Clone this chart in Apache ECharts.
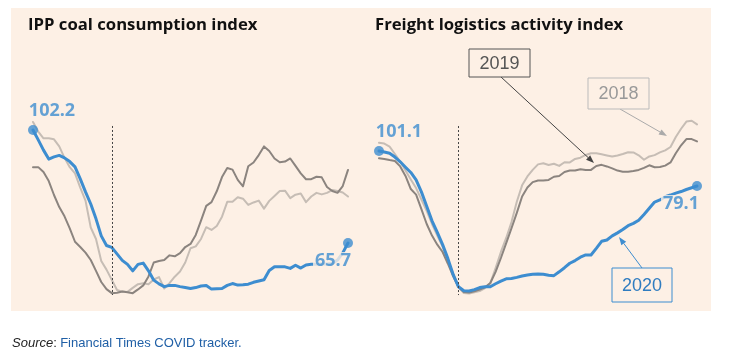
<!DOCTYPE html>
<html><head><meta charset="utf-8">
<script src="https://cdn.jsdelivr.net/npm/echarts@6/dist/echarts.min.js"></script>
<style>html,body{margin:0;padding:0;background:#fff;}#c{width:735px;height:357px;}</style>
</head><body><div id="c"></div>
<script>
// Days relative to the marker (dotted line at day 0)
const days = ['-15','-14','-13','-12','-11','-10','-9','-8','-7','-6','-5','-4','-3','-2','-1','0','1','2','3','4','5','6','7','8','9','10','11','12','13','14','15','16','17','18','19','20','21','22','23','24','25','26','27','28','29','30','31','32','33','34','35','36','37','38','39','40','41','42','43','44','45'];

// IPP coal consumption index
const coal2020 = [102.2,99.0,95.7,92.8,93.5,94.0,93.2,92.0,90.3,86.4,
  82.2,78.3,73.5,68.0,64.9,64.3,62.2,60.1,58.8,56.7,
  58.8,59.2,56.7,53.7,52.5,51.6,52.0,52.0,51.6,51.3,
  51.0,51.3,51.8,52.0,50.8,50.9,51.0,52.0,52.6,52.1,
  52.2,52.4,53.0,53.4,53.8,56.8,58.0,58.0,58.0,57.5,
  58.5,57.6,58.6,58.8,58.8,58.9,58.9,59.1,60.2,62.5,65.7];
const coal2019 = [90.2,90.2,88.6,85.7,81.2,77.3,74.3,70.4,66.1,64.4,
  62.6,60.2,56.7,53.1,50.8,49.5,49.6,50.0,49.8,49.5,
  50.7,52.0,54.9,59.4,59.9,60.2,61.7,61.4,62.4,64.4,
  65.4,68.3,72.9,77.7,78.9,82.4,87.0,89.9,89.4,86.1,
  84.0,90.5,91.7,94.1,96.9,95.4,93.0,91.8,92.0,93.0,
  90.6,88.2,86.3,86.3,87.1,86.9,83.8,82.5,81.9,84.1,89.3];
const coal2018 = [104.8,101.7,99.5,99.5,99.2,96.9,93.2,90.2,88.2,83.6,
  79.4,70.7,67.0,59.9,57.1,53.8,50.5,50.0,49.9,51.2,
  52.4,52.7,52.4,53.9,54.7,51.0,52.7,54.8,56.5,59.4,
  64.0,64.6,67.0,70.8,69.9,71.2,74.2,79.0,79.0,80.5,
  80.0,78.0,78.8,79.4,76.8,79.3,80.9,82.5,82.6,80.2,
  81.3,81.7,78.9,80.7,81.9,81.4,81.9,82.8,82.5,82.0,80.7];

// Freight logistics activity index
const freight2020 = [101.1,100.5,99.7,97.3,94.3,90.9,87.6,82.9,75.4,66.3,
  57.2,49.9,42.2,33.4,23.3,15.7,13.2,13.1,13.9,15.2,
  15.7,15.7,17.6,19.3,20.7,20.9,21.6,22.5,23.1,23.6,
  23.7,23.6,23.0,22.7,25.1,27.7,30.5,32.2,34.3,35.7,
  35.7,39.9,44.3,45.1,47.7,49.6,51.7,54.1,55.6,57.6,
  61.2,65.1,69.0,70.3,72.3,73.4,74.6,75.6,76.9,78.0,79.1];
const freight2019 = [96.5,96.1,95.4,94.8,91.4,85.4,77.2,73.7,64.6,55.2,
  47.9,42.2,37.6,30.2,22.3,15.6,12.4,12.1,12.9,14.0,
  15.4,18.1,25.1,33.8,43.2,52.5,62.2,72.5,78.1,81.5,
  82.5,82.5,82.9,84.9,85.4,87.9,88.8,88.8,89.6,89.2,
  89.2,91.7,92.4,91.4,90.2,88.8,88.1,88.1,88.5,89.2,
  90.5,92.1,90.9,91.0,91.9,93.9,99.7,104.7,108.6,108.6,107.1];
const freight2018 = [106.3,105.8,103.9,99.2,94.5,88.8,83.2,77.8,70.6,63.4,
  55.2,47.9,41.0,32.5,24.0,15.6,11.8,11.5,12.3,13.0,
  14.9,17.8,27.5,37.6,46.4,56.4,69.2,79.5,85.1,89.2,
  92.7,93.4,92.3,93.1,91.7,94.0,93.9,96.1,96.9,98.6,
  99.7,99.7,99.0,98.3,97.6,98.3,99.2,100.3,100.2,98.4,
  95.6,97.7,98.5,100.2,101.5,103.6,109.9,115.1,119.6,120.1,117.8];

const titles = ['IPP coal consumption index', 'Freight logistics activity index'];

const BG = '#fdf0e5';
const BLUE = '#3d8dd0';
const DARK = '#8b847f';
const LIGHT = '#c6bdb5';
const FONT = '"Open Sans", "Noto Sans", sans-serif';
const last = days.length - 1;

function lineSeries(idx, data, color, width, z, extra) {
  return Object.assign({
    type: 'line', xAxisIndex: idx, yAxisIndex: idx, data: data,
    showSymbol: false, symbol: 'none', silent: true, animation: false, z: z,
    lineStyle: { color: color, width: width, join: 'round', cap: 'round' }
  }, extra || {});
}
function dotted(top, bottom) {
  return {
    silent: true, symbol: 'none', animation: false,
    label: { show: false },
    lineStyle: { type: [2, 2], color: '#444', width: 1 },
    data: [[{ coord: ['0', top] }, { coord: ['0', bottom] }]]
  };
}
function numLabel(pos, dx, dist, bg) {
  return {
    show: true, position: pos, offset: [dx, 0], distance: dist,
    formatter: p => p.value[1].toFixed(1),
    color: BLUE, fontFamily: FONT, fontWeight: 'bold', fontSize: 18,
    backgroundColor: bg ? BG : 'transparent', padding: bg ? [0, 2, 0, 2] : 0
  };
}
function arrow(x1, y1, x2, y2, color) {
  const ang = Math.atan2(y2 - y1, x2 - x1), L = 8, W = 3;
  const bx = x2 - L * Math.cos(ang), by = y2 - L * Math.sin(ang);
  const px = -Math.sin(ang) * W, py = Math.cos(ang) * W;
  return [
    { type: 'line', z: 100, shape: { x1: x1, y1: y1, x2: bx, y2: by }, style: { stroke: color, lineWidth: 1 } },
    { type: 'polygon', z: 100, shape: { points: [[x2, y2], [bx + px, by + py], [bx - px, by - py]] }, style: { fill: color } }
  ];
}
function box(x, y, w, h, text, stroke, color) {
  return [
    { type: 'rect', z: 100, shape: { x: x, y: y, width: w, height: h }, style: { fill: BG, stroke: stroke, lineWidth: 1 } },
    { type: 'text', z: 101, x: x + w / 2, y: y + h / 2 + 1, style: { text: text, fill: color, font: '18px "Liberation Sans", Arial, sans-serif', textAlign: 'center', textVerticalAlign: 'middle' } }
  ];
}

const option = {
  animation: false,
  backgroundColor: '#fff',
  title: [
    { text: titles[0], left: 23, top: 12, textStyle: { fontFamily: FONT, fontWeight: 'bold', fontSize: 16.7, color: '#111' } },
    { text: titles[1], left: 370, top: 12, textStyle: { fontFamily: FONT, fontWeight: 'bold', fontSize: 16.7, color: '#111' } }
  ],
  grid: [
    { left: 33, top: 105.85, width: 315, height: 216.7 },
    { left: 379, top: 105.05, width: 318, height: 206.7 }
  ],
  xAxis: [
    { type: 'category', gridIndex: 0, data: days, boundaryGap: false, show: false },
    { type: 'category', gridIndex: 1, data: days, boundaryGap: false, show: false }
  ],
  yAxis: [
    { type: 'value', gridIndex: 0, min: 40, max: 110, show: false, splitLine: { show: false } },
    { type: 'value', gridIndex: 1, min: 0, max: 130, show: false, splitLine: { show: false } }
  ],
  series: [
    lineSeries(0, coal2018, LIGHT, 2, 2, { markLine: dotted(103.5, 48.9) }),
    lineSeries(0, coal2019, DARK, 2, 3),
    lineSeries(0, coal2020, BLUE, 3, 4),
    {
      type: 'scatter', xAxisIndex: 0, yAxisIndex: 0, z: 10, silent: true, symbolSize: 10,
      itemStyle: { color: BLUE },
      data: [
        { value: [days[0], coal2020[0]], label: numLabel('top', 19, 5, false) },
        { value: [days[last], coal2020[last]], label: numLabel('bottom', -15, 4, true) }
      ]
    },
    lineSeries(1, freight2018, LIGHT, 2, 2, { markLine: dotted(116.8, 10.5) }),
    lineSeries(1, freight2019, DARK, 2, 3),
    lineSeries(1, freight2020, BLUE, 3, 4),
    {
      type: 'scatter', xAxisIndex: 1, yAxisIndex: 1, z: 10, silent: true, symbolSize: 10,
      itemStyle: { color: BLUE },
      data: [
        { value: [days[0], freight2020[0]], label: numLabel('top', 20, 5, false) },
        { value: [days[last], freight2020[last]], label: numLabel('bottom', -16, 4, true) }
      ]
    }
  ],
  graphic: [
    { type: 'rect', z: -10, silent: true, shape: { x: 11, y: 8, width: 700, height: 303 }, style: { fill: BG } },
    ...arrow(501, 77, 594, 163, '#444'),
    ...arrow(620, 109, 667, 136, '#aaa'),
    ...arrow(642, 268, 619, 237, BLUE),
    ...box(469, 49, 61, 28, '2019', '#555', '#555'),
    ...box(588, 78, 61, 31, '2018', '#bbb', '#999'),
    ...box(612, 268, 60, 34, '2020', BLUE, '#2f7cc0'),
    {
      type: 'text', z: 100, x: 12, y: 343,
      style: {
        text: '{s|Source}{c|:} {l|Financial Times COVID tracker.}',
        textVerticalAlign: 'middle',
        rich: {
          s: { font: 'italic 13px "Liberation Sans", Arial, sans-serif', fill: '#222' },
          c: { font: '13px "Liberation Sans", Arial, sans-serif', fill: '#222' },
          l: { font: '13px "Liberation Sans", Arial, sans-serif', fill: '#1f5fa6' }
        }
      }
    }
  ]
};

const chart = echarts.init(document.getElementById('c'));
chart.setOption(option);
</script></body></html>
